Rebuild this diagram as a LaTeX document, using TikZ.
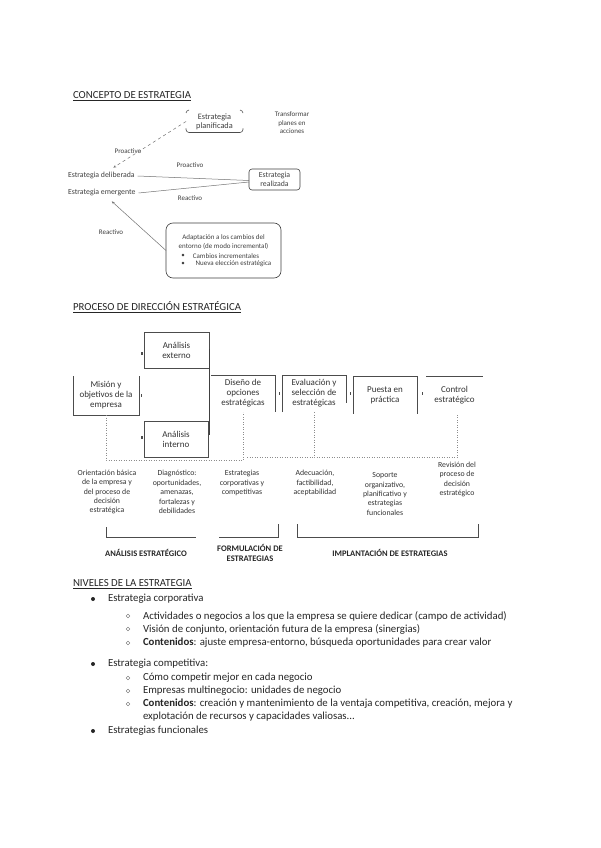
\documentclass[tikz,border=0pt]{standalone}
\usepackage{fontspec}
\setmainfont{Carlito}
\usetikzlibrary{arrows.meta}
\begin{document}
\begin{tikzpicture}[x=1pt,y=-1pt,
  every node/.style={inner sep=0pt, outer sep=0pt, text=black!85},
  title/.style={anchor=west, font=\fontsize{10.8}{13}\selectfont},
  body/.style={anchor=west, font=\fontsize{10.8}{13}\selectfont},
  ctxt/.style={font=\fontsize{7.8}{9}\selectfont, align=center, text=black!75},
  stxt/.style={font=\fontsize{7}{8.5}\selectfont, align=center, text=black!75},
  ptxt/.style={font=\fontsize{9}{10}\selectfont, align=center, text=black!80},
  dtxt/.style={font=\fontsize{7.8}{9.4}\selectfont, align=center, text=black!80},
  btxt/.style={font=\bfseries\fontsize{8.5}{10}\selectfont, align=center},
  cline/.style={draw=black!55, line width=0.5pt},
  brk/.style={draw=black!70, line width=0.6pt},
  bline/.style={draw=black!70, line width=0.6pt},
  dline/.style={draw=black!45, line width=0.5pt, dotted},
  tickmark/.style={fill=black!70},
  tip/.style={-{Stealth[length=3pt,width=2.5pt]}},
  bulA/.style={circle, fill=black!85, minimum size=4pt},
  bulB/.style={circle, draw=black!60, line width=0.4pt, minimum size=3.6pt}
]
\useasboundingbox[fill=white] (0,0) rectangle (600,848);

% ---------- CONCEPTO DE ESTRATEGIA ----------
\node[title] (t1) at (73,96) {\underline{CONCEPTO DE ESTRATEGIA}};

\node[ctxt, font=\fontsize{8.3}{9}\selectfont, minimum width=57pt, minimum height=22pt] (plan) at (214.5,121.5) {Estrategia\\planificada};
\draw[brk] ([shift={(3,-0.5)}]plan.north west) to[bend right=35] ([shift={(0,2.5)}]plan.north west);
\draw[brk] ([shift={(-3,-0.5)}]plan.north east) to[bend left=35] ([shift={(0,2.5)}]plan.north east);
\draw[brk, rounded corners=3pt] ([shift={(0,-4)}]plan.south west) -- (plan.south west) -- (plan.south east) -- ([shift={(0,-4)}]plan.south east);

\node[stxt] (tra) at (292,123) {Transformar\\planes en\\acciones};

\node[stxt] (pro1) at (128,151) {Proactivo};
\node[ctxt, anchor=west] (delib) at (68,175) {Estrategia deliberada};
\node[ctxt, anchor=west] (emerg) at (68,192) {Estrategia emergente};
\node[stxt] (pro2) at (190,165) {Proactivo};
\node[stxt] (rea2) at (190,198) {Reactivo};
\node[ctxt, draw=black!75, line width=0.6pt, rounded corners=3pt, minimum width=51pt, minimum height=21pt] (real) at (274.5,179.5) {Estrategia\\realizada};
\node[stxt] (rea1) at (111,232) {Reactivo};

\node[draw=black!75, line width=0.6pt, rounded corners=7pt, minimum width=115pt, minimum height=55pt] (adapt) at (223.5,250.5) {};
\node[stxt] (ad1) at (223.5,242) {Adaptación a los cambios del\\entorno (de modo incremental)};
\node[stxt] (ab1) at (183,256) {•};
\node[stxt] (ab2) at (183,264) {•};
\node[stxt] (ai1) at (226,256) {Cambios incrementales};
\node[stxt] (ai2) at (233.5,264) {Nueva elección estratégica};

\draw[cline, dashed, tip] (plan.west) -- ([shift={(12,-4)}]delib.north);
\draw[cline] ([shift={(3,1)}]delib.east) -- ([shift={(0,1)}]real.west);
\draw[cline] ([shift={(3,1)}]emerg.east) -- ([shift={(0,2.5)}]real.west);
\draw[cline, tip] (adapt.west) -- ([shift={(10,6)}]emerg.south);

% ---------- PROCESO DE DIRECCION ESTRATEGICA ----------
\node[title] (t2) at (73,307) {\underline{PROCESO DE DIRECCIÓN ESTRATÉGICA}};

\node[ptxt, minimum width=65pt, minimum height=36pt] (ext) at (176.5,350) {Análisis\\externo};
\node[ptxt, minimum width=66pt, minimum height=39pt] (mis) at (106,395.5) {Misión y\\objetivos de la\\empresa};
\node[ptxt, minimum width=64pt, minimum height=36pt] (int) at (176,439) {Análisis\\interno};
\node[ptxt, minimum width=64pt, minimum height=37pt] (dis) at (243,393.5) {Diseño de\\opciones\\estratégicas};
\node[ptxt, minimum width=64pt, minimum height=37pt] (eva) at (314,393.5) {Evaluación y\\selección de\\estratégicas};
\node[ptxt, minimum width=64pt, minimum height=37pt] (pue) at (385,395) {Puesta en\\práctica};
\node[ptxt, minimum width=57pt, minimum height=37pt] (con) at (454.5,395) {Control\\estratégico};

\draw[bline] (ext.north west) rectangle (ext.south east);
\draw[bline] (mis.north west) -- (mis.south west) -- (mis.south east) -- (mis.north east);
\draw[bline] (int.north west) rectangle (int.south east);
\draw[bline] (dis.north west) -- (dis.north east) -- (dis.south east);
\draw[bline] (eva.south west) -- (eva.north west) -- (eva.north east) -- ([shift={(0,-9)}]eva.south east);
\draw[bline] (pue.south west) -- (pue.north west) -- (pue.north east) -- (pue.south east);
\draw[bline] (con.north west) -- (con.north east);
\draw[draw=black!75, line width=1.3pt] ([shift={(0.5,-1)}]ext.east) -- ([shift={(1.5,-4)}]int.east);

\fill[tickmark] ([shift={(-2.6,1.5)}]ext.west) rectangle ++(1.3,3);
\fill[tickmark] ([shift={(1.5,-1.5)}]mis.east) rectangle ++(1.3,3);
\fill[tickmark] ([shift={(-2.6,-3.5)}]int.west) rectangle ++(1.3,3);
\fill[tickmark] ([shift={(3.5,-1.5)}]dis.east) rectangle ++(1.3,3);
\fill[tickmark] ([shift={(3.5,-1.5)}]eva.east) rectangle ++(1.3,3);
\fill[tickmark] ([shift={(4.5,-3)}]pue.east) rectangle ++(1.3,3);

\draw[dline] (mis.south) -- ([shift={(0,45)}]mis.south) -| (dis.south);
\draw[dline] (eva.south) -- ([shift={(0,45)}]eva.south) -| ([shift={(2.5,0)}]con.south);
\draw[dline] ([shift={(4,45)}]dis.south) -- ([shift={(0,45)}]eva.south);

\node[dtxt] (d1) at (107,492) {Orientación básica\\de la empresa y\\del proceso de\\decisión\\estratégica};
\node[dtxt] (d2) at (177,492) {Diagnóstico:\\oportunidades,\\amenazas,\\fortalezas y\\debilidades};
\node[dtxt] (d3) at (242,483) {Estrategias\\corporativas y\\competitivas};
\node[dtxt] (d4) at (315,483) {Adecuación,\\factibilidad,\\aceptabilidad};
\node[dtxt] (d5) at (385,494) {Soporte\\organizativo,\\planificativo y\\estrategias\\funcionales};
\node[dtxt] (d6) at (457,479.5) {Revisión del\\proceso de\\decisión\\estratégico};

\draw[bline] (106,527) -- (106,537) -- (196,537);
\draw[bline] (219,537) -- (278,537) -- (278,524);
\draw[bline] (297,524) -- (297,537) -- (478,537) -- (478,524);

\node[btxt] (la) at (146,553) {ANÁLISIS ESTRATÉGICO};
\node[btxt] (lf) at (250,553) {FORMULACIÓN DE\\ESTRATEGIAS};
\node[btxt] (li) at (390,553) {IMPLANTACIÓN DE ESTRATEGIAS};

% ---------- NIVELES DE LA ESTRATEGIA ----------
\node[title] (t3) at (73,584) {\underline{NIVELES DE LA ESTRATEGIA}};

\node[bulA] (b1) at (93,599) {};
\node[body] (l1) at (108,599) {Estrategia corporativa};
\node[bulB] (b11) at (128,616) {};
\node[body] (l11) at (143,616) {Actividades o negocios a los que la empresa se quiere dedicar (campo de actividad)};
\node[bulB] (b12) at (128,629) {};
\node[body] (l12) at (143,629) {Visión de conjunto, orientación futura de la empresa (sinergias)};
\node[bulB] (b13) at (128,643) {};
\node[body] (l13) at (143,643) {\textbf{Contenidos}: ajuste empresa-entorno, búsqueda oportunidades para crear valor};

\node[bulA] (b2) at (93,664) {};
\node[body] (l2) at (108,664) {Estrategia competitiva:};
\node[bulB] (b21) at (128,678) {};
\node[body] (l21) at (143,678) {Cómo competir mejor en cada negocio};
\node[bulB] (b22) at (128,691) {};
\node[body] (l22) at (143,691) {Empresas multinegocio: unidades de negocio};
\node[bulB] (b23) at (128,704) {};
\node[body] (l23) at (143,704) {\textbf{Contenidos}: creación y mantenimiento de la ventaja competitiva, creación, mejora y};
\node[body] (l23b) at (143,717) {explotación de recursos y capacidades valiosas...};

\node[bulA] (b3) at (93,731) {};
\node[body] (l3) at (108,731) {Estrategias funcionales};
\end{tikzpicture}
\end{document}
